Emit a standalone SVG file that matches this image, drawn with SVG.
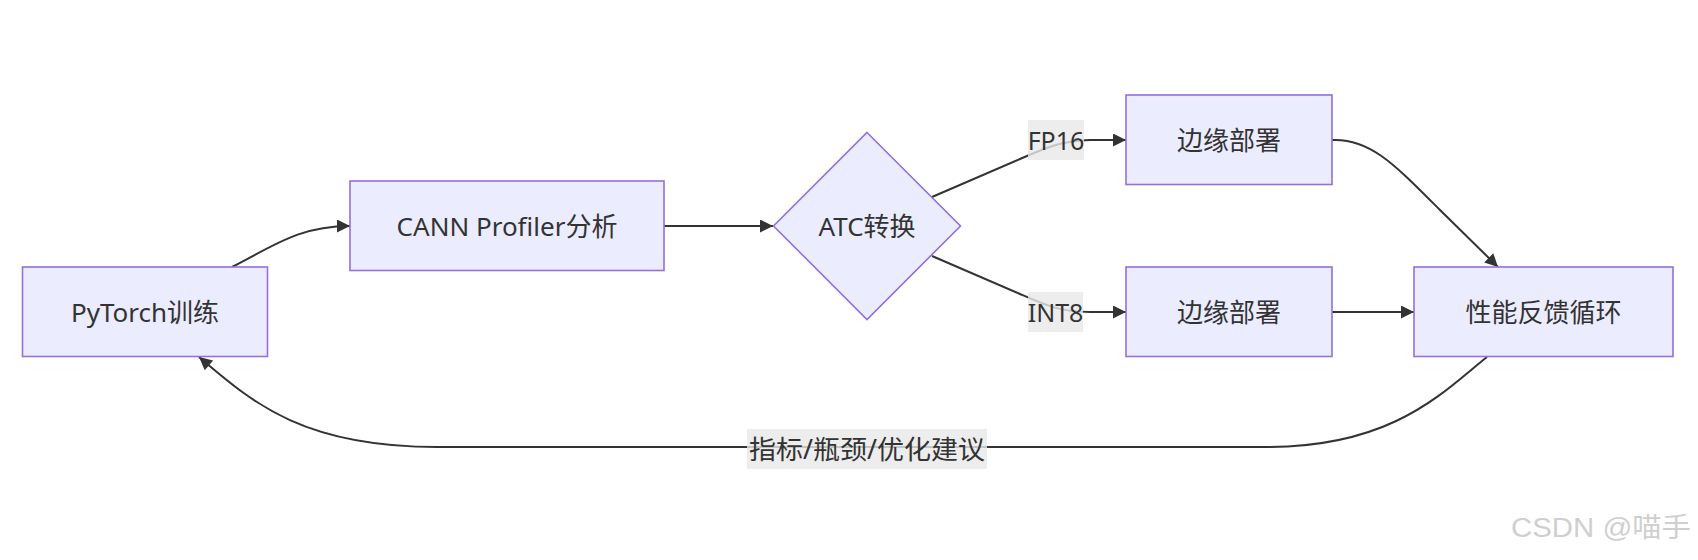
<svg xmlns="http://www.w3.org/2000/svg" width="1698" height="560" viewBox="0 0 1698 560">
<style>
.node rect, .node polygon { fill: #ECECFF; stroke: #9370DB; stroke-width: 1.6; }
.node text { font-family: "Noto Sans", "Noto Sans CJK SC", sans-serif; font-size: 26px; fill: #333333; text-anchor: middle; dominant-baseline: central; }
.edge { fill: none; stroke: #333333; stroke-width: 2; }
.lbl rect { fill: #e8e8e8; fill-opacity: 0.8; }
.lbl text { font-family: "Noto Sans", "Noto Sans CJK SC", sans-serif; font-size: 25px; fill: #333333; text-anchor: middle; dominant-baseline: central; }
.wm { font-family: "Liberation Sans", "Noto Sans CJK SC", sans-serif; font-size: 27px; fill: #cfcfcf; }
</style>
<defs>
<marker id="arrow" viewBox="0 0 10 10" refX="10" refY="5" markerWidth="15" markerHeight="13" markerUnits="userSpaceOnUse" orient="auto">
<path d="M0,0 L10,5 L0,10 z" fill="#333333"/>
</marker>
</defs>
<rect width="1698" height="560" fill="#ffffff"/>
<g id="connectors">
<path class="edge" d="M232,267 C275,245 300,226 350,226" marker-end="url(#arrow)"/>
<path class="edge" d="M664,226 L773,226" marker-end="url(#arrow)"/>
<path class="edge" d="M932,197 L1020,159 C1045,148 1060,141 1090,140 L1126,140" marker-end="url(#arrow)"/>
<path class="edge" d="M932,256 L1020,294 C1045,305 1060,312 1090,312 L1126,312" marker-end="url(#arrow)"/>
<path class="edge" d="M1332,140 C1370,138 1395,165 1440,210 L1498,267" marker-end="url(#arrow)"/>
<path class="edge" d="M1332,312 L1414,312" marker-end="url(#arrow)"/>
<path class="edge" d="M1487,357 C1445,390 1395,447 1267,447 L437,447 C300,447 250,400 199,357" marker-end="url(#arrow)"/>
</g>
<g id="edge-labels">
<g class="lbl" id="label-fp16"><rect x="1028" y="120" width="56" height="40"/><text x="1056" y="140">FP16</text></g>
<g class="lbl" id="label-int8"><rect x="1028" y="292" width="55" height="40"/><text x="1055.5" y="312">INT8</text></g>
<g class="lbl" id="label-feedback"><rect x="747" y="429" width="240" height="40"/><text x="867" y="449" style="font-size:26.5px" textLength="236" lengthAdjust="spacingAndGlyphs">指标/瓶颈/优化建议</text></g>
</g>
<g id="node-pytorch" class="node"><rect x="22.5" y="267" width="245" height="89.5"/><text x="145" y="312">PyTorch训练</text></g>
<g id="node-cann" class="node"><rect x="350" y="181" width="314" height="89.5"/><text x="507" y="226">CANN Profiler分析</text></g>
<g id="node-atc" class="node"><polygon points="867,132.5 960.5,226 867,319.5 773.5,226"/><text x="867" y="226">ATC转换</text></g>
<g id="node-edge-fp16" class="node"><rect x="1126" y="95" width="206" height="89.5"/><text x="1229" y="140">边缘部署</text></g>
<g id="node-edge-int8" class="node"><rect x="1126" y="267" width="206" height="89.5"/><text x="1229" y="312">边缘部署</text></g>
<g id="node-perf" class="node"><rect x="1414" y="267" width="259" height="89.5"/><text x="1543.5" y="312">性能反馈循环</text></g>
<text class="wm" x="1511" y="537" textLength="180" lengthAdjust="spacingAndGlyphs">CSDN @喵手</text>
</svg>
